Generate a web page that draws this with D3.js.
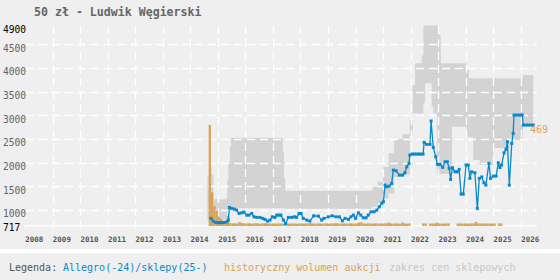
<!DOCTYPE html>
<html>
<head>
<meta charset="utf-8">
<script src="https://cdn.jsdelivr.net/npm/d3@7"></script>
<style>
  body { margin: 0; background: #fff; }
  svg { display: block; font-family: "DejaVu Sans Mono", monospace; }
</style>
</head>
<body>
<svg id="chart" width="560" height="280"></svg>
<script>
// --- data ---
const title = "50 zł - Ludwik Węgierski";
const yearTicks = d3.range(2008, 2027);
const priceTicks = [717, 1000, 1500, 2000, 2500, 3000, 3500, 4000, 4500, 4900];

// Allegro prices (blue line)
const allegroYears = [2014.75, 2014.83, 2014.92, 2015.00, 2015.08, 2015.15, 2015.23, 2015.32, 2015.38, 2015.42,
  2015.50, 2015.60, 2015.68, 2015.77, 2015.87, 2015.95, 2016.05, 2016.13, 2016.23, 2016.31,
  2016.41, 2016.53, 2016.63, 2016.71, 2016.80, 2016.89, 2016.98, 2017.07, 2017.14, 2017.22,
  2017.29, 2017.38, 2017.46, 2017.56, 2017.68, 2017.78, 2017.86, 2017.95, 2018.02, 2018.10,
  2018.23, 2018.34, 2018.48, 2018.65, 2018.77, 2018.85, 2019.01, 2019.15, 2019.29, 2019.41,
  2019.52, 2019.62, 2019.74, 2019.83, 2019.92, 2020.00, 2020.10, 2020.19, 2020.28, 2020.38,
  2020.46, 2020.56, 2020.67, 2020.77, 2020.86, 2020.95, 2021.01, 2021.07, 2021.13, 2021.22,
  2021.31, 2021.37, 2021.47, 2021.59, 2021.71, 2021.79, 2021.86, 2021.94, 2021.97, 2022.05,
  2022.13, 2022.21, 2022.29, 2022.37, 2022.45, 2022.49, 2022.58, 2022.70, 2022.74, 2022.82,
  2022.91, 2022.97, 2023.06, 2023.16, 2023.25, 2023.33, 2023.40, 2023.45, 2023.52, 2023.61,
  2023.69, 2023.76, 2023.83, 2023.91, 2024.01, 2024.09, 2024.15, 2024.21, 2024.33, 2024.42,
  2024.49, 2024.58, 2024.66, 2024.73, 2024.84, 2024.90, 2025.00, 2025.10, 2025.18, 2025.24,
  2025.30, 2025.39, 2025.46, 2025.51, 2025.58, 2025.67, 2025.72, 2025.75, 2025.85, 2025.95,
  2026.05, 2026.09, 2026.18, 2026.27, 2026.36, 2026.45];
const allegroPrices = [825, 768, 740, 735, 735, 735, 740, 753, 789, 1057,
  1036, 1021, 1000, 930, 943, 958, 894, 894, 930, 858,
  846, 846, 825, 804, 768, 789, 858, 846, 894, 894,
  894, 789, 717, 846, 846, 858, 846, 930, 930, 825,
  789, 768, 880, 873, 789, 825, 858, 880, 858, 858,
  774, 825, 804, 858, 894, 825, 943, 894, 837, 837,
  894, 964, 964, 1000, 1070, 1142, 1175, 1528, 1492, 1507,
  1564, 1845, 1830, 1739, 1739, 1788, 1915, 1986, 2162, 2183,
  2183, 2183, 2183, 2183, 2183, 2430, 2388, 2388, 2880, 2324,
  2126, 1965, 1965, 1902, 2020, 2020, 1881, 1649, 1894, 1809,
  1809, 1860, 1338, 1338, 1951, 1951, 1670, 1809, 1788, 1036,
  1670, 1700, 1577, 1528, 1986, 1670, 1718, 1718, 1999, 1900,
  1951, 2210, 2282, 2443, 1528, 2409, 2620, 3007, 3007, 3007,
  3007, 2796, 2796, 2796, 2796, 2796];

// shop price range (grey band)
const bandYears = [2014.62, 2014.70, 2014.78, 2014.84, 2015.32, 2015.34, 2015.38, 2015.44, 2015.48, 2017.36,
  2017.40, 2017.44, 2020.55, 2020.62, 2020.80, 2021.00, 2021.20, 2021.40, 2021.70, 2021.97,
  2022.07, 2022.16, 2022.40, 2022.46, 2022.52, 2022.76, 2022.82, 2022.95, 2023.03, 2023.09,
  2023.10, 2023.50, 2024.03, 2024.12, 2024.27, 2024.50, 2025.00, 2025.60, 2026.08, 2026.45];
const bandLow = [800, 800, 800, 800, 800, 1000, 1040, 1050, 1040, 1040,
  1040, 1030, 1030, 1070, 1150, 1250, 1350, 1700, 1750, 2580,
  3042, 3042, 3042, 3260, 3676, 3180, 3042, 1760, 1760, 1760,
  1760, 2760, 2540, 2540, 2056, 1950, 2310, 2480, 2830, 2830];
const bandHigh = [1700, 1915, 1740, 1230, 1280, 1634, 1986, 2337, 2527, 2231,
  1680, 1410, 1410, 1490, 1600, 1910, 2200, 2500, 2600, 2900,
  3640, 4100, 4270, 4900, 4900, 4900, 4900, 4900, 4697, 4274,
  4099, 4099, 3957, 3782, 3782, 3782, 3782, 3782, 3852, 3852];

// historical auction volume, monthly from Sep 2014
const volumeStart = 2014 + 8 / 12;
const volumes = [469, 156, 94, 70,
  42, 33, 23, 23, 47, 14, 12, 13, 12, 19, 14, 12,
  12, 13, 11, 12, 13, 12, 11, 12, 13, 12, 12, 11,
  12, 11, 12, 12, 11, 16, 12, 11, 12, 12, 11, 12,
  12, 11, 12, 12, 13, 12, 11, 12, 12, 11, 12, 12,
  11, 12, 12, 13, 12, 11, 12, 12, 11, 12, 12, 11,
  12, 16, 17, 12, 11, 12, 12, 11, 12, 12, 11, 12,
  12, 13, 16, 12, 11, 12, 12, 11, 17, 12, 11, 12,
  0, 0, 0, 0, 0, 12, 12, 0, 11, 12, 12, 16,
  12, 11, 12, 12, 12, 0, 0, 0, 12, 12, 11, 12,
  12, 11, 12, 12, 19, 12, 12, 11, 12, 12, 11, 12,
  12, 0, 12, 12];
const maxVolume = 469;

// --- chart ---
const blue = "#0a88cc", orange = "#d8a357", bandGrey = "#d3d3d3";
const svg = d3.select("#chart");

svg.append("rect").attr("x", 0).attr("y", 0).attr("width", 560).attr("height", 249).attr("fill", "#efefef");
svg.append("rect").attr("x", 0).attr("y", 253).attr("width", 560).attr("height", 27).attr("fill", "#efefef");

const x = d3.scaleLinear().domain([2008, 2026.6]).range([25, 537.4]);
const y = d3.scaleLinear().domain([717, 4900]).range([223.5, 25.4]);
const v = d3.scaleLinear().domain([0, maxVolume]).range([226, 125]);

// grey band
const bandRows = bandYears.map((t, i) => ({ t: t, lo: bandLow[i], hi: bandHigh[i] }));
svg.append("path")
  .datum(bandRows)
  .attr("fill", bandGrey)
  .attr("d", d3.area().curve(d3.curveStepAfter)
    .x(d => x(d.t)).y0(d => y(d.lo)).y1(d => y(d.hi)));

// grid
const grid = svg.append("g").attr("stroke", "#fff").attr("stroke-width", 1.3);
grid.selectAll(".h").data(priceTicks.filter(p => p % 500 === 0)).enter().append("line")
  .attr("x1", 26).attr("x2", 537).attr("y1", d => Math.round(y(d)) + 0.5).attr("y2", d => Math.round(y(d)) + 0.5)
  .attr("stroke-dasharray", "8,5");
grid.selectAll(".v").data(yearTicks.slice(1)).enter().append("line")
  .attr("x1", d => Math.round(x(d)) + 0.5).attr("x2", d => Math.round(x(d)) + 0.5)
  .attr("y1", 26).attr("y2", 225)
  .attr("stroke-dasharray", "8,5");

// x axis line + ticks
svg.append("line").attr("x1", 25).attr("x2", 537).attr("y1", 225.7).attr("y2", 225.7)
  .attr("stroke", "#fff").attr("stroke-width", 1.5);
svg.selectAll(".tick").data(yearTicks).enter().append("line")
  .attr("x1", d => Math.round(x(d)) + 0.5).attr("x2", d => Math.round(x(d)) + 0.5)
  .attr("y1", 225).attr("y2", 229).attr("stroke", "#fff");

// volume bars
const month = 1 / 12;
svg.append("g").selectAll("rect")
  .data(volumes.map((n, i) => ({ t: volumeStart + i * month, n: n })).filter(d => d.n > 0))
  .enter().append("rect")
  .attr("x", d => x(d.t))
  .attr("width", d => x(d.t + month) - x(d.t))
  .attr("y", d => v(d.n))
  .attr("height", d => v(0) - v(d.n))
  .attr("fill", orange);

// allegro line + square markers
const pts = allegroYears.map((t, i) => ({ t: t, p: allegroPrices[i] }));
svg.append("path").datum(pts)
  .attr("fill", "none").attr("stroke", blue).attr("stroke-width", 1.3)
  .attr("d", d3.line().x(d => x(d.t)).y(d => y(d.p)));
svg.append("g").selectAll("rect").data(pts).enter().append("rect")
  .attr("x", d => x(d.t) - 1.5).attr("y", d => y(d.p) - 1.5)
  .attr("width", 3).attr("height", 3).attr("fill", blue);

// volume max label
svg.append("text").attr("x", 530).attr("y", v(maxVolume) + 7.5)
  .attr("font-size", 10).attr("fill", orange).text(maxVolume);

// y labels
svg.selectAll(".yl").data(priceTicks).enter().append("text")
  .attr("x", 3).attr("y", d => y(d) + 7.3)
  .attr("font-size", 9.6)
  .attr("fill", d => (d === 717 || d === 4900) ? "#000" : "#666")
  .text(d => d);

// x labels
svg.selectAll(".xl").data(yearTicks).enter().append("text")
  .attr("x", d => x(d) + 0.3).attr("y", 241.7)
  .attr("font-size", 7.5).attr("font-weight", "bold").attr("fill", "#555")
  .text(d => d);

// title
svg.append("text").attr("x", 34).attr("y", 15.7)
  .attr("font-size", 11.6).attr("font-weight", "bold").attr("fill", "#666")
  .text(title);

// legend
const legend = [
  { label: "Legenda:", x: 9, color: "#555" },
  { label: "Allegro(-24)/sklepy(25-)", x: 63, color: blue },
  { label: "historyczny wolumen aukcji", x: 224, color: orange },
  { label: "zakres cen sklepowych", x: 389, color: "#c8c8c8" }
];
svg.selectAll(".lg").data(legend).enter().append("text")
  .attr("x", d => d.x).attr("y", 271)
  .attr("font-size", 10).attr("fill", d => d.color)
  .text(d => d.label);
</script>
</body>
</html>
